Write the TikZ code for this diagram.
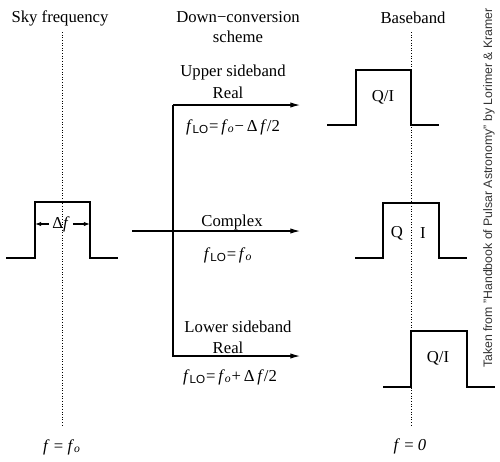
\documentclass[tikz,border=0pt]{standalone}
\usepackage{fontspec}
\setmainfont{Liberation Serif}
\setsansfont{Liberation Sans}
\usetikzlibrary{arrows.meta}

\newcommand{\fLO}{\textit{f}\textsubscript{\sffamily LO}=\,\textit{f}\textsubscript{\textit{o}}}

\begin{document}
\begin{tikzpicture}[x=0.02cm, y=-0.02cm, line width=0.6pt,
    lbl/.style={inner sep=0pt, font=\fontsize{9.5}{11}\selectfont},
    axis/.style={densely dotted, line width=0.5pt},
    conv/.style={-{Latex[length=5.5pt, width=3pt]}},
    gap/.style={-{Latex[length=3.5pt, width=2.5pt]}}]

    \useasboundingbox (0,0) rectangle (500,461);

    % sky frequency
    \coordinate (s0) at (62,32);
    \coordinate (s1) at (62,425);
    \draw[axis] (s0) -- (s1);
    \draw (6,258) -- (35,258) -- (35,202) -- (90,202) -- (90,258) -- (118,258);

    \node[lbl, inner sep=1.5pt] (df) at (61,224) {Δ\textit{f}};
    \coordinate (dl) at (35,224);
    \coordinate (dr) at (90,224);
    \draw[gap] (df.west) -- (dl);
    \draw[gap] (df.east) -- (dr);

    \node[lbl] (sky) at (60,18) {Sky frequency};
    \node[lbl] (fo) at (62,447) {\textit{f} = \textit{f}\textsubscript{\textit{o}}};

    % down-conversion
    \coordinate (u0) at (173,105);
    \coordinate (u1) at (300,105);
    \coordinate (c0) at (132,231);
    \coordinate (c1) at (300,231);
    \coordinate (l0) at (173,356);
    \coordinate (l1) at (300,356);

    \draw[conv] (u0) -- (u1);
    \draw[conv] (u0) -- (l0) -- (l1);
    \draw[conv] (c0) -- (c1);

    \node[lbl, align=center] (dc) at (238,27) {Down−conversion\\scheme};
    \node[lbl] (us) at (233,72) {Upper sideband};
    \node[lbl] (ur) at (228,93) {Real};
    \node[lbl] (uf) at (233,127) {\fLO−\,Δ\,\textit{f}/2};
    \node[lbl] (cx) at (232,222) {Complex};
    \node[lbl] (cf) at (228,255) {\fLO};
    \node[lbl] (ls) at (238,327) {Lower sideband};
    \node[lbl] (lr) at (228,348) {Real};
    \node[lbl] (lf) at (230,377) {\fLO+\,Δ\,\textit{f}/2};

    % baseband
    \coordinate (b0) at (411,32);
    \coordinate (b1) at (411,425);
    \draw[axis] (b0) -- (b1);

    \draw (327,125) -- (356,125) -- (356,70) -- (411,70) -- (411,125) -- (439,125);
    \draw (355,258) -- (383,258) -- (383,203) -- (439,203) -- (439,258) -- (467,258);
    \draw (383,387) -- (411,387) -- (411,331) -- (467,331) -- (467,387) -- (495,387);

    \node[lbl] (bb) at (413,18) {Baseband};
    \node[lbl] (qi1) at (383,97) {Q/I};
    \node[lbl] (q) at (397,233) {Q};
    \node[lbl] (i) at (423,233) {I};
    \node[lbl] (qi2) at (438,358) {Q/I};
    \node[lbl] (f0) at (410,446) {\textit{f} = \textit{0}};

    \node[rotate=90, inner sep=0pt, text=black!80, font=\sffamily\fontsize{7}{9}\selectfont] (src) at (489,188)
      {Taken from "Handbook of Pulsar Astronomy" by Lorimer \& Kramer};
  \end{tikzpicture}
\end{document}
